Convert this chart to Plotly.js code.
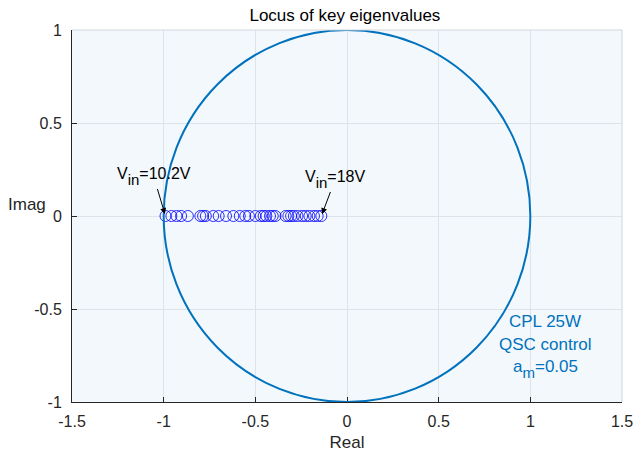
<!DOCTYPE html>
<html>
<head>
<meta charset="utf-8">
<script src="https://cdn.plot.ly/plotly-3.0.1.min.js"></script>
<style>html,body{margin:0;padding:0;background:#fff;}#chart{width:634px;height:456px;}</style>
</head>
<body>
<div id="chart"></div>
<script>
// Eigenvalue real parts (imaginary parts are zero)
const eigReal = [-0.99, -0.958, -0.93, -0.905, -0.868, -0.80, -0.785, -0.77, -0.73, -0.70,
                 -0.66, -0.62, -0.585, -0.555, -0.535, -0.50, -0.47, -0.455, -0.44, -0.42,
                 -0.405, -0.39, -0.335, -0.32, -0.305, -0.29, -0.27, -0.245, -0.225, -0.205,
                 -0.18, -0.16, -0.14];
const eigImag = [0, 0, 0, 0, 0, 0, 0, 0, 0, 0, 0, 0, 0, 0, 0, 0, 0, 0, 0, 0,
                 0, 0, 0, 0, 0, 0, 0, 0, 0, 0, 0, 0, 0];
const unitCircle = {x0: -1, x1: 1, y0: -1, y1: 1};
const xTicks = [-1.5, -1, -0.5, 0, 0.5, 1, 1.5];
const xTickText = ['-1.5', '-1', '-0.5', '0', '0.5', '1', '1.5'];
const yTicks = [-1, -0.5, 0, 0.5, 1];
const yTickText = ['-1', '-0.5', '0', '0.5', '1'];
const subIn = '<sub><sub><span style="font-size:15px">in</span></sub></sub>';
const labelStart = {x: -0.99, y: 0.0, text: 'V' + subIn + '=10.2V'};
const labelEnd = {x: -0.14, y: 0.0, text: 'V' + subIn + '=18V'};
const noteLines = ['CPL 25W', 'QSC control', 'a<sub><sub><span style="font-size:15px">m</span></sub></sub>=0.05'];

const font = 'Liberation Sans, Arial, Helvetica, sans-serif';

const traces = [{
  x: eigReal, y: eigImag, type: 'scatter', mode: 'markers',
  marker: {symbol: 'circle-open', size: 11, color: 'rgba(0,0,255,0.8)', line: {width: 1}},
  hoverinfo: 'x+y', showlegend: false
}];

const layout = {
  width: 634, height: 456,
  margin: {l: 72, r: 12, t: 30, b: 54},
  paper_bgcolor: '#ffffff', plot_bgcolor: '#f3f8fc',
  showlegend: false,
  title: {text: 'Locus of key eigenvalues', font: {family: font, size: 17, color: '#000'}, x: 0.544, xanchor: 'center', y: 0.968, yanchor: 'middle'},
  xaxis: {
    range: [-1.5, 1.5], tickvals: xTicks, ticktext: xTickText,
    showgrid: true, gridcolor: '#dde3e8', gridwidth: 1, zeroline: false,
    showline: true, linecolor: '#262626', linewidth: 1, mirror: false,
    ticks: 'inside', ticklen: 5, tickcolor: '#262626', ticklabelstandoff: 5,
    tickfont: {family: font, size: 16, color: '#262626'},
    title: {text: 'Real', font: {family: font, size: 17, color: '#262626'}, standoff: 6}
  },
  yaxis: {
    range: [-1, 1], tickvals: yTicks, ticktext: yTickText,
    showgrid: true, gridcolor: '#dde3e8', gridwidth: 1, zeroline: false,
    showline: true, linecolor: '#262626', linewidth: 1, mirror: false,
    ticks: 'inside', ticklen: 5, tickcolor: '#262626', ticklabelstandoff: 6,
    tickfont: {family: font, size: 16, color: '#262626'}
  },
  shapes: [
    {type: 'circle', xref: 'x', yref: 'y', x0: unitCircle.x0, x1: unitCircle.x1, y0: unitCircle.y0, y1: unitCircle.y1,
     line: {color: '#0072BD', width: 2}},
    {type: 'line', xref: 'paper', yref: 'paper', x0: 0, x1: 1, y0: 1, y1: 1, line: {color: '#d0d6dc', width: 1}},
    {type: 'line', xref: 'paper', yref: 'paper', x0: 1, x1: 1, y0: 0, y1: 1, line: {color: '#d0d6dc', width: 1}}
  ],
  annotations: [
    {x: labelStart.x, y: labelStart.y, xref: 'x', yref: 'y', text: labelStart.text,
     showarrow: true, arrowhead: 2, arrowsize: 1.2, arrowwidth: 1, arrowcolor: '#000',
     ax: -12, ay: -40, standoff: 2, font: {family: font, size: 16, color: '#000'}},
    {x: labelEnd.x, y: labelEnd.y, xref: 'x', yref: 'y', text: labelEnd.text,
     showarrow: true, arrowhead: 2, arrowsize: 1.2, arrowwidth: 1, arrowcolor: '#000',
     ax: 14, ay: -37, standoff: 2, font: {family: font, size: 16, color: '#000'}},
    {x: 1.08, y: -0.565, xref: 'x', yref: 'y', text: noteLines[0], showarrow: false,
     font: {family: font, size: 17, color: '#0072BD'}},
    {x: 1.08, y: -0.69, xref: 'x', yref: 'y', text: noteLines[1], showarrow: false,
     font: {family: font, size: 17, color: '#0072BD'}},
    {x: 1.08, y: -0.82, xref: 'x', yref: 'y', text: noteLines[2], showarrow: false,
     font: {family: font, size: 17, color: '#0072BD'}},
    {x: -0.082, y: 0.5, xref: 'paper', yref: 'paper', xanchor: 'center', yanchor: 'middle',
     text: 'Imag', showarrow: false, font: {family: font, size: 17, color: '#262626'}, yshift: 12}
  ]
};

Plotly.newPlot('chart', traces, layout, {displayModeBar: false, staticPlot: true});
</script>
</body>
</html>
